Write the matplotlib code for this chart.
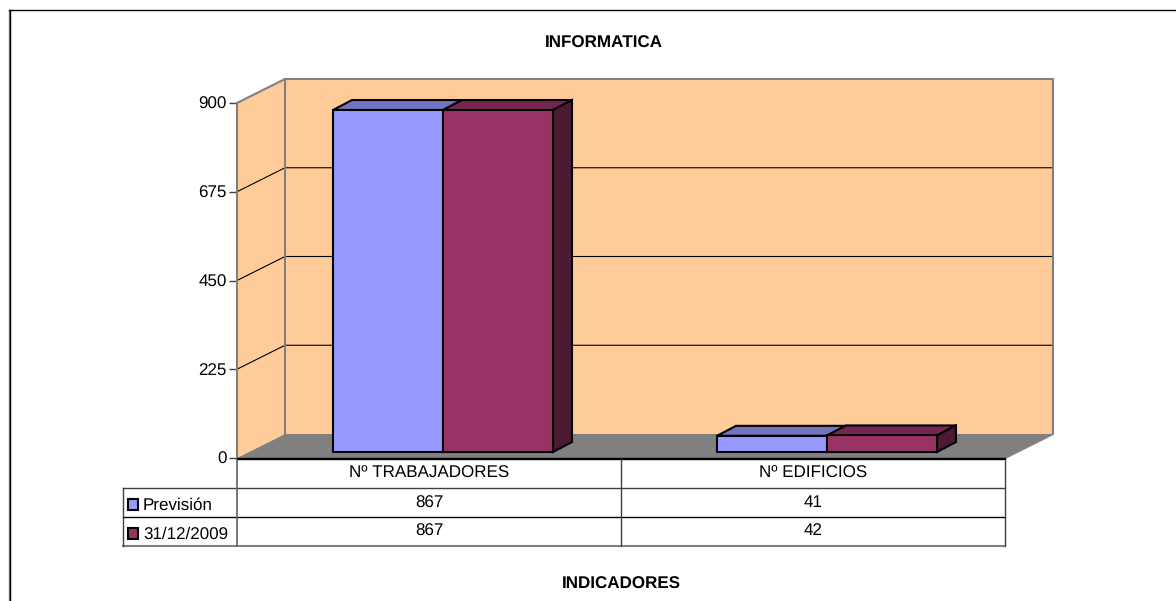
# -*- coding: utf-8 -*-
import numpy as np
import matplotlib
matplotlib.use("Agg")
import matplotlib.pyplot as plt
from matplotlib.patches import Polygon

plt.rcParams['font.family'] = ['Liberation Sans', 'DejaVu Sans']
plt.rcParams['text.hinting'] = 'none'
plt.rcParams['text.hinting_factor'] = 1

categories = ["Nº TRABAJADORES", "Nº EDIFICIOS"]
series_names = ["Previsión", "31/12/2009"]
prevision = [867, 41]
fecha = [867, 42]
yticks = [0, 225, 450, 675, 900]
title = "INFORMATICA"
xlabel = "INDICADORES"

colors = ["#9999FF", "#993366"]
tops = ["#7373BF", "#732650"]
sides = ["#3C2A50", "#4D1A33"]
wall = "#FFCC99"
grey = "#808080"

W, H = 1176, 601
L, R, T, B = 237, 1005, 103, 458
fsize = 12.25
fig = plt.figure(figsize=(W/100, H/100), dpi=100)
fig.patch.set_facecolor("white")

# overlay in pixels for frame and table
ax0 = fig.add_axes([0, 0, 1, 1])
ax0.set_xlim(0, W)
ax0.set_ylim(H, 0)
ax0.set_axis_off()

ax = fig.add_axes([L/W, 1-B/H, (R-L)/W, (B-T)/H])
ax.set_xlim(0, 2)
ax.set_ylim(0, 900)
ax.patch.set_visible(False)
for s in ax.spines.values():
    s.set_visible(False)
ax.set_xticks([])
ax.set_yticks(yticks)
ax.tick_params(axis='y', length=6, width=1, color="#404040", labelsize=fsize, pad=1.5)

sx = 2/(R-L)
sy = 900/(B-T)
DX, DY = 48*sx, 24*sy   # wall depth


def poly(ax_, pts, fc, ec, lw, z):
    ax_.add_patch(Polygon(pts, closed=True, fc=fc, ec=ec, lw=lw, zorder=z, clip_on=False, joinstyle='miter'))


# walls and floor
poly(ax, [(0, 0), (DX, DY), (DX, 900+DY), (0, 900)], wall, "none", 0, 1)
poly(ax, [(DX, DY), (2+DX, DY), (2+DX, 900+DY), (DX, 900+DY)], wall, "none", 0, 1)
poly(ax, [(0, 0), (DX, DY), (2+DX, DY), (2, 0)], grey, "none", 0, 1.5)
for v in yticks[1:-1]:
    ax.plot([0, DX, 2+DX], [v, v+DY, v+DY], color="black", lw=0.8, zorder=2, clip_on=False)
ax.plot([0, DX, 2+DX, 2+DX, 2], [900, 900+DY, 900+DY, DY, 0], color=grey, lw=1.5, zorder=2, clip_on=False)
ax.plot([DX, DX], [DY, 900+DY], color=grey, lw=1.5, zorder=2, clip_on=False)
ax.plot([0, 0], [0, 900], color=grey, lw=1.5, zorder=2, clip_on=False)
ax.plot([0, 2], [0, 0], color="black", lw=1, zorder=2, clip_on=False)

# 3d bars
bw = 110*sx
x0 = 96*sx
fy = 6*sy
bx, by = 19*sx, 10*sy
for i in range(len(categories)):
    for j, vals in enumerate([prevision, fecha]):
        v = vals[i]
        a = i*1.0 + x0 + j*bw
        b = a + bw
        y0 = fy
        y1 = v + fy
        # later bar on top so the shared edge stays black
        z = 5 + j
        poly(ax, [(a, y1), (a+bx, y1+by), (b+bx, y1+by), (b, y1)], tops[j], "black", 1.5, z)
        if j == 1:
            poly(ax, [(b, y0), (b+bx, y0+by), (b+bx, y1+by), (b, y1)], sides[j], "black", 1.5, z)
        poly(ax, [(a, y0), (b, y0), (b, y1), (a, y1)], colors[j], "black", 1.5, z)

# table
tl, tm, tr = 123, 621, 1005
r0, r1, r2, r3 = 459, 488, 517, 546
ax0.plot([L, tr], [r0, r0], color="black", lw=1)
ax0.plot([tl, tr], [r1, r1], color="#404040", lw=1)
ax0.plot([tl, tr], [r2, r2], color="black", lw=1)
ax0.plot([tl, tr], [r3, r3], color=grey, lw=1.5)
ax0.plot([tl, tl], [r1, r3], color="#404040", lw=1)
ax0.plot([L, L], [B, r3], color="#606060", lw=1.2)
ax0.plot([tm, tm], [r0, r3], color="#404040", lw=1)
ax0.plot([tr, tr], [r0, r3], color="#404040", lw=1)

centres = [(L+tm)/2, (tm+tr)/2]
for c, name in zip(centres, categories):
    ax0.text(c, 473.5, name, ha="center", va="center", fontsize=fsize)
for c, a, b in zip(centres, prevision, fecha):
    ax0.text(c, 503, str(a), ha="center", va="center", fontsize=fsize)
    ax0.text(c, 531, str(b), ha="center", va="center", fontsize=fsize)
for y, name, col in zip([504, 533], series_names, colors):
    ax0.add_patch(Polygon([(128, y-5.5), (138, y-5.5), (138, y+5.5), (128, y+5.5)], fc=col, ec="black", lw=1.5))
    ax0.text(143, y+1, name, ha="left", va="center", fontsize=fsize)

ax0.text(604, 43, title, ha="center", va="center", fontsize=fsize, fontweight="bold")
ax0.text(621, 584, xlabel, ha="center", va="center", fontsize=fsize, fontweight="bold")

# outer frame, cut by the bottom and right of the image
ax0.plot([8.5, 8.5], [H, 10], color=grey, lw=1, clip_on=False)
ax0.plot([9.5, 9.5], [H, 10], color="black", lw=1, clip_on=False)
ax0.plot([9, W], [10, 10], color="black", lw=1, clip_on=False)

fig.savefig("out.png", dpi=100)
